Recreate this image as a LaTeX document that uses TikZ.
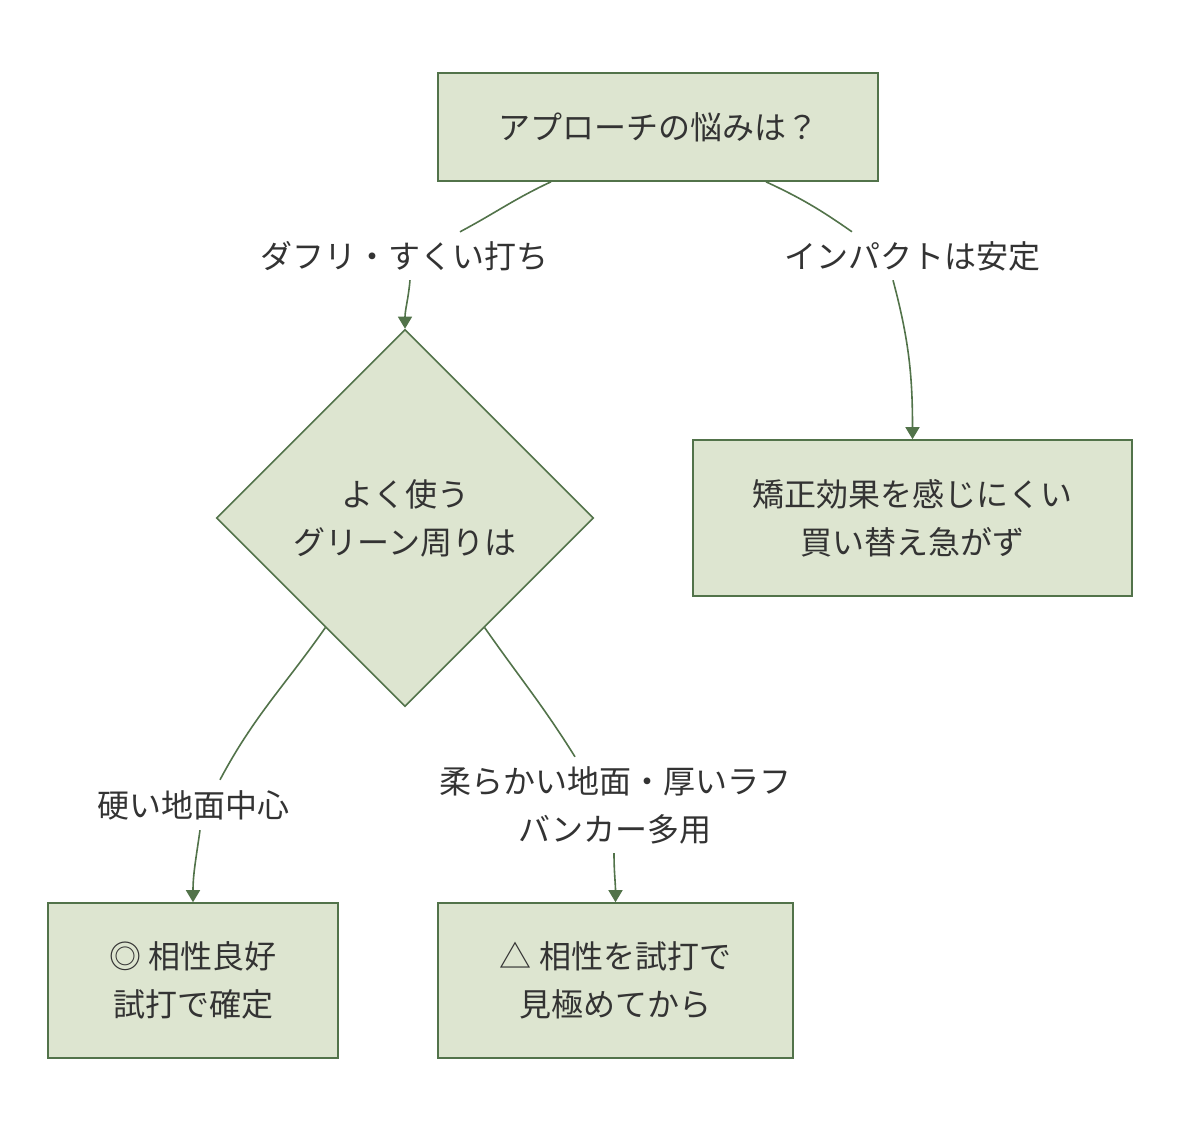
\documentclass[tikz,border=0pt]{standalone}
\usepackage{fontspec}
\setmainfont{Noto Sans CJK JP}
\usetikzlibrary{shapes.geometric,arrows.meta}
\definecolor{boxfill}{RGB}{221,229,208}
\definecolor{boxline}{RGB}{82,115,74}
\definecolor{txt}{RGB}{51,51,51}
\begin{document}
\begin{tikzpicture}[x=1pt,y=1pt]

      \tikzset{box/.style={draw=boxline, line width=1.6pt, fill=boxfill, text=txt, align=center, inner sep=0pt, font=\fontsize{32}{48}\selectfont},
               choice/.style={box, diamond, minimum width=377pt, minimum height=377pt},
               lbl/.style={fill=white, text=txt, align=center, inner sep=0pt, font=\fontsize{32}{48}\selectfont},
               link/.style={draw=boxline, line width=1.6pt},
               arr/.style={link, -{Triangle[width=14pt,length=12pt]}}}
      \useasboundingbox (0,0) rectangle (1180,-1138);
% Nodes
	%Boxes
      	\node[box, minimum width=440pt, minimum height=108pt] (q) at (658,-127) {アプローチの悩みは？};
      	\node[choice] (green) at (405,-518) {よく使う\\グリーン周りは};
      	\node[box, minimum width=439pt, minimum height=156pt] (keep) at (912.5,-518) {矯正効果を感じにくい\\買い替え急がず};
      	\node[box, minimum width=290pt, minimum height=155pt] (good) at (193,-980.5) {◎ 相性良好\\試打で確定};
      	\node[box, minimum width=355pt, minimum height=155pt] (try) at (615.5,-980.5) {△ 相性を試打で\\見極めてから};

	%Labels
      	\node[lbl, minimum height=48pt] (ldufu) at (404,-256) {ダフリ・すくい打ち};
      	\node[lbl, minimum height=48pt] (lok) at (912,-256) {インパクトは安定};
      	\node[lbl, minimum height=50pt] (lhard) at (193,-805) {硬い地面中心};
      	\node[lbl, minimum height=96pt] (lsoft) at (615,-805) {柔らかい地面・厚いラフ\\バンカー多用};

%Edges
		\path[link] ([xshift=-107pt]q.south) to[out=205,in=28] ([xshift=56pt]ldufu.north);
		\path[arr] ([xshift=6pt]ldufu.south) to[out=265,in=90] (green.north);
		\path[link] ([xshift=108pt]q.south) to[out=335,in=145] ([xshift=-60pt]lok.north);
		\path[arr] ([xshift=-19pt]lok.south) to[out=285,in=90] (keep.north);
		\path[link] (green.234) to[out=235,in=62] ([xshift=27pt]lhard.north);
		\path[arr] ([xshift=7pt]lhard.south) to[out=262,in=90] (good.north);
		\path[link] (green.306) to[out=305,in=122] ([xshift=-40pt]lsoft.north);
		\path[arr] ([xshift=-1pt]lsoft.south) to[out=270,in=90] (try.north);

\end{tikzpicture}
\end{document}
